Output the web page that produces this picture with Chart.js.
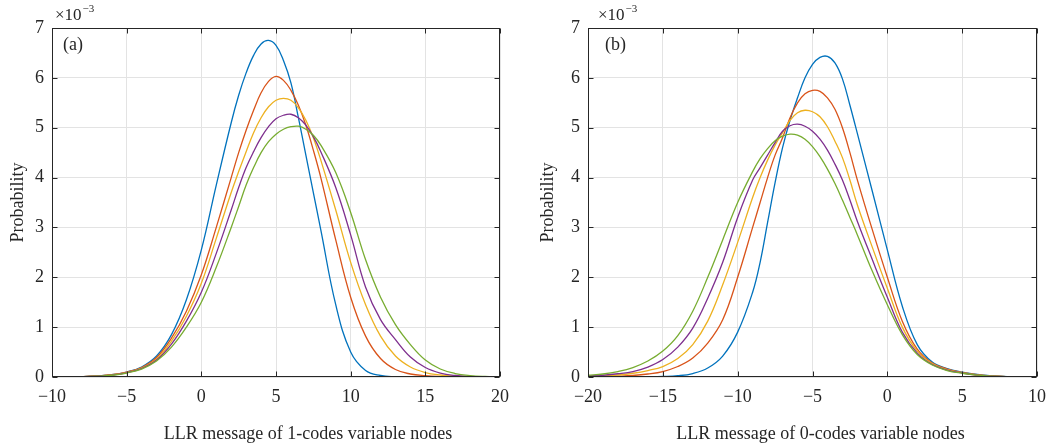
<!DOCTYPE html>
<html>
<head>
<meta charset="utf-8">
<script src="https://cdn.jsdelivr.net/npm/chart.js@4.4.0/dist/chart.umd.min.js"></script>
<style>
  html, body { margin: 0; padding: 0; background: #fff; }
  #wrap { position: relative; width: 1056px; height: 447px; }
  .box { position: absolute; top: 0; width: 528px; height: 447px; }
</style>
</head>
<body>
<div id="wrap">
  <div class="box" style="left:0"><canvas id="chartA" width="528" height="447"></canvas></div>
  <div class="box" style="left:528px"><canvas id="chartB" width="528" height="447"></canvas></div>
</div>
<script>
// probabilities, in units of 1e-3

// (a) 1-codes variable nodes
const xA = [-10, -9, -8, -7, -6, -5, -4, -3, -2, -1, 0, 1, 2,
  2.5, 3, 3.5, 4, 4.5, 5, 5.5, 6, 6.5, 7, 7.5, 8,
  9, 10, 11, 12, 13, 14, 15, 16, 17, 18, 19, 20];
const blueA = [0.001, 0.003, 0.008, 0.02, 0.045, 0.1, 0.2, 0.42, 0.85, 1.55, 2.55, 3.85, 5.1,
  5.65, 6.1, 6.45, 6.68, 6.75, 6.65, 6.35, 5.9, 5.2, 4.45, 3.7, 2.95,
  1.45, 0.5, 0.13, 0.03, 0.006, 0.001, 0, 0, 0, 0, 0, 0];
const redA = [0.001, 0.003, 0.008, 0.02, 0.045, 0.1, 0.19, 0.39, 0.78, 1.32, 2.05, 3.0, 4.0,
  4.5, 4.95, 5.35, 5.7, 5.93, 6.03, 5.95, 5.75, 5.45, 5.05, 4.55, 4.0,
  2.75, 1.6, 0.82, 0.37, 0.15, 0.06, 0.025, 0.009, 0.003, 0.001, 0, 0];
const yellowA = [0.001, 0.003, 0.007, 0.018, 0.04, 0.09, 0.18, 0.36, 0.72, 1.22, 1.88, 2.78, 3.7,
  4.12, 4.52, 4.9, 5.2, 5.42, 5.55, 5.59, 5.55, 5.4, 5.15, 4.8, 4.35,
  3.35, 2.3, 1.45, 0.82, 0.42, 0.2, 0.09, 0.04, 0.015, 0.005, 0.002, 0];
const purpleA = [0.001, 0.003, 0.007, 0.017, 0.038, 0.085, 0.17, 0.34, 0.66, 1.12, 1.7, 2.48, 3.35,
  3.8, 4.2, 4.52, 4.8, 5.02, 5.18, 5.25, 5.27, 5.2, 5.05, 4.82, 4.52,
  3.8, 2.85, 1.8, 1.15, 0.75, 0.4, 0.19, 0.08, 0.03, 0.01, 0.003, 0.001];
const greenA = [0.001, 0.003, 0.007, 0.016, 0.035, 0.08, 0.16, 0.32, 0.6, 1.0, 1.5, 2.2, 3.0,
  3.42, 3.85, 4.2, 4.5, 4.72, 4.87, 4.97, 5.02, 5.03, 4.97, 4.85, 4.65,
  4.1, 3.3, 2.35, 1.6, 1.05, 0.65, 0.34, 0.16, 0.07, 0.028, 0.01, 0.003];

// (b) 0-codes variable nodes
const xB = [-20, -19, -18, -17, -16, -15, -14, -13, -12, -11, -10, -9,
  -8.5, -8, -7.5, -7, -6.5, -6, -5.5, -5, -4.5, -4, -3.5, -3, -2.5, -2,
  -1, 0, 1, 2, 3, 4, 5, 6, 7, 8, 9, 10];
const blueB = [0, 0, 0.001, 0.002, 0.004, 0.01, 0.025, 0.07, 0.18, 0.42, 0.9, 1.7,
  2.3, 3.1, 3.9, 4.6, 5.15, 5.6, 6.0, 6.27, 6.41, 6.43, 6.3, 5.98, 5.45, 4.88,
  3.72, 2.55, 1.42, 0.65, 0.3, 0.17, 0.1, 0.05, 0.02, 0.008, 0.003, 0.001];
const redB = [0.004, 0.008, 0.016, 0.03, 0.06, 0.11, 0.21, 0.38, 0.68, 1.15, 2.0, 3.0,
  3.5, 4.0, 4.45, 4.8, 5.2, 5.5, 5.68, 5.75, 5.73, 5.6, 5.37, 5.0, 4.5, 3.95,
  2.95, 2.0, 1.12, 0.56, 0.28, 0.16, 0.09, 0.045, 0.02, 0.008, 0.003, 0.001];
const yellowB = [0.012, 0.022, 0.04, 0.075, 0.13, 0.21, 0.37, 0.65, 1.12, 1.85, 2.7, 3.6,
  4.0, 4.35, 4.65, 4.9, 5.15, 5.3, 5.35, 5.32, 5.22, 5.02, 4.73, 4.4, 3.95, 3.45,
  2.6, 1.78, 1.0, 0.52, 0.27, 0.15, 0.085, 0.04, 0.018, 0.007, 0.003, 0.001];
const purpleB = [0.02, 0.035, 0.065, 0.11, 0.2, 0.35, 0.6, 0.98, 1.58, 2.3, 3.2, 3.95,
  4.2, 4.45, 4.7, 4.93, 5.04, 5.07, 5.03, 4.93, 4.77, 4.55, 4.27, 3.95, 3.55, 3.12,
  2.35, 1.6, 0.9, 0.48, 0.25, 0.14, 0.08, 0.037, 0.016, 0.006, 0.002, 0.001];
const greenB = [0.035, 0.06, 0.11, 0.19, 0.32, 0.52, 0.83, 1.32, 2.0, 2.75, 3.5, 4.12,
  4.38, 4.58, 4.74, 4.83, 4.87, 4.85, 4.77, 4.62, 4.42, 4.17, 3.88, 3.55, 3.2, 2.85,
  2.12, 1.45, 0.85, 0.45, 0.24, 0.13, 0.075, 0.036, 0.016, 0.006, 0.002, 0.001];

const colors = ['#0072BD', '#D95319', '#EDB120', '#7E2F8E', '#77AC30'];
const FONT = '"Liberation Serif", "Times New Roman", serif';
const INK = '#262626';

function pts(xs, ys) {
  return xs.map((x, i) => ({ x: x, y: ys[i] }));
}

function makeDatasets(xs, series) {
  return series.map((ys, i) => ({
    data: pts(xs, ys),
    borderColor: colors[i],
    borderWidth: 1.3,
    pointRadius: 0,
    fill: false,
    tension: 0.4,
    order: series.length - i   // later series on top, like MATLAB
  }));
}

function minusSign(v) {
  return v < 0 ? '\u2212' + Math.abs(v) : String(v);
}

// box, inward ticks, exponent, panel tag and x label
const decor = {
  id: 'decor',
  afterDraw(chart, args, opts) {
    const { ctx, chartArea: a, scales: { x, y } } = chart;
    const L = Math.round(a.left) + 0.5, R = Math.round(a.right) - 0.5;
    const T = Math.round(a.top) + 0.5, B = Math.round(a.bottom) - 0.5;
    ctx.save();
    ctx.strokeStyle = INK;
    ctx.lineWidth = 1;
    ctx.beginPath();
    x.ticks.forEach(t => {
      const px = Math.round(x.getPixelForValue(t.value)) + 0.5;
      ctx.moveTo(px, B); ctx.lineTo(px, B - 5);
      ctx.moveTo(px, T); ctx.lineTo(px, T + 5);
    });
    y.ticks.forEach(t => {
      const py = Math.round(y.getPixelForValue(t.value)) + 0.5;
      ctx.moveTo(L, py); ctx.lineTo(L + 5, py);
      ctx.moveTo(R, py); ctx.lineTo(R - 5, py);
    });
    ctx.stroke();
    ctx.strokeRect(L, T, R - L, B - T);

    ctx.fillStyle = INK;
    ctx.textBaseline = 'alphabetic';
    ctx.textAlign = 'left';
    ctx.font = '17px ' + FONT;
    ctx.fillText('\u00d710', a.left + opts.expDx, 20);
    const w = ctx.measureText('\u00d710').width;
    ctx.font = '11px ' + FONT;
    ctx.fillText('\u22123', a.left + opts.expDx + w + 1, 12);

    ctx.font = '18px ' + FONT;
    ctx.textBaseline = 'middle';
    ctx.fillText(opts.tag, a.left + opts.tagDx, a.top + 17);

    ctx.textAlign = 'center';
    ctx.fillText(opts.xLabel, (a.left + a.right) / 2 + opts.xShift, 434);
    ctx.restore();
  }
};

function makeChart(id, xs, series, cfg) {
  return new Chart(document.getElementById(id), {
    type: 'line',
    data: { datasets: makeDatasets(xs, series) },
    options: {
      responsive: false,
      animation: false,
      layout: { padding: { left: 0, right: cfg.padRight, top: 28, bottom: 0 } },
      plugins: {
        legend: { display: false },
        tooltip: { enabled: false },
        decor: cfg.decor
      },
      scales: {
        x: {
          type: 'linear',
          min: cfg.xMin,
          max: cfg.xMax,
          afterFit: s => { s.height = 70; },
          border: { display: false },
          grid: { color: '#e3e3e3', lineWidth: 1, drawTicks: false },
          ticks: {
            stepSize: 5,
            padding: 9,
            color: INK,
            font: { family: FONT, size: 18 },
            callback: v => minusSign(v)
          }
        },
        y: {
          min: 0,
          max: 7,
          afterFit: s => { s.width = cfg.yWidth; },
          border: { display: false },
          grid: { color: '#e3e3e3', lineWidth: 1, drawTicks: false },
          ticks: {
            stepSize: 1,
            padding: 8,
            color: INK,
            font: { family: FONT, size: 18 }
          },
          title: {
            display: true,
            text: 'Probability',
            color: INK,
            font: { family: FONT, size: 18 },
            padding: { top: cfg.titlePad, bottom: 0 }
          }
        }
      }
    },
    plugins: [decor]
  });
}

makeChart('chartA', xA, [blueA, redA, yellowA, purpleA, greenA], {
  xMin: -10, xMax: 20, yWidth: 52, padRight: 28, titlePad: 7,
  decor: { tag: '(a)', tagDx: 11, expDx: 3, xLabel: 'LLR message of 1-codes variable nodes', xShift: 32 }
});

makeChart('chartB', xB, [blueB, redB, yellowB, purpleB, greenB], {
  xMin: -20, xMax: 10, yWidth: 60, padRight: 19, titlePad: 9,
  decor: { tag: '(b)', tagDx: 17, expDx: 10, xLabel: 'LLR message of 0-codes variable nodes', xShift: 8 }
});
</script>
</body>
</html>
